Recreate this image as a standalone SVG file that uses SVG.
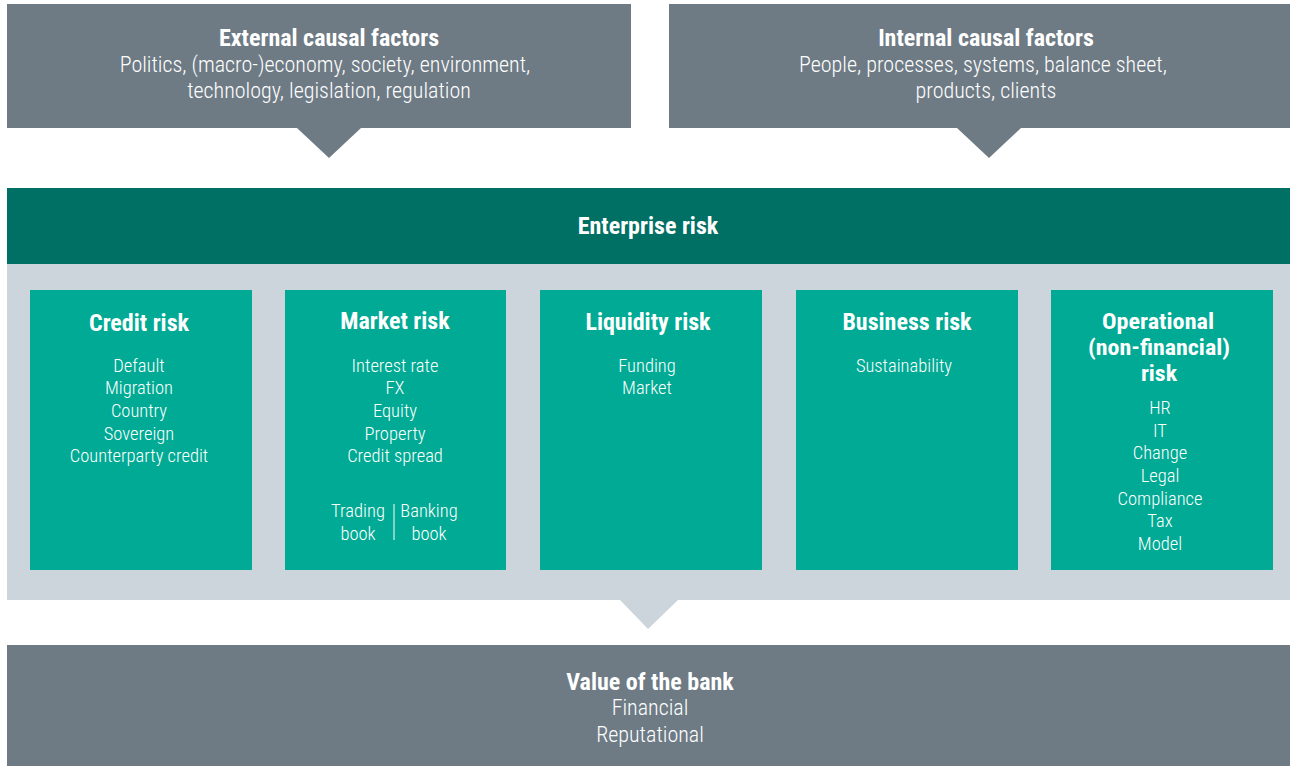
<svg xmlns="http://www.w3.org/2000/svg" width="1290" height="766" viewBox="0 0 1290 766">
<style>
text{font-family:"Liberation Sans Narrow","Roboto Condensed","Liberation Sans",sans-serif;fill:#fff;text-anchor:middle}
.t{font-weight:bold;font-size:24px}
.o{font-weight:bold;font-size:22px}
.b{font-size:22px;font-weight:300}
.c{font-size:18.5px;font-weight:300}
.gray{fill:#6e7b85}
.card{fill:#00aa94}
</style>
<rect width="1290" height="766" fill="#fff"/>
<g id="external">
<rect class="gray" x="7" y="4" width="624" height="124"/>
<polygon class="gray" points="297,128 361,128 329,158"/>
<text class="t" x="329" y="46">External causal factors</text>
<text class="b" x="325" y="72">Politics, (macro-)economy, society, environment,</text>
<text class="b" x="329" y="98">technology, legislation, regulation</text>
</g>
<g id="internal">
<rect class="gray" x="669" y="4" width="621" height="124"/>
<polygon class="gray" points="957,128 1021,128 989,158"/>
<text class="t" x="986" y="46">Internal causal factors</text>
<text class="b" x="983" y="72">People, processes, systems, balance sheet,</text>
<text class="b" x="986" y="98">products, clients</text>
</g>
<g id="enterprise">
<rect x="7" y="264" width="1283" height="336" fill="#cdd5dc"/>
<polygon points="620,600 678,600 648,629" fill="#cdd5dc"/>
<rect x="7" y="188" width="1283" height="76" fill="#006f64"/>
<text class="t" x="648" y="234">Enterprise risk</text>
</g>
<g id="credit">
<rect class="card" x="30" y="290" width="222" height="280"/>
<text class="t" x="139" y="331">Credit risk</text>
<text class="c" x="139" y="372">Default</text>
<text class="c" x="139" y="394">Migration</text>
<text class="c" x="139" y="417">Country</text>
<text class="c" x="139" y="440">Sovereign</text>
<text class="c" x="139" y="462">Counterparty credit</text>
</g>
<g id="market">
<rect class="card" x="285" y="290" width="221" height="280"/>
<text class="t" x="395" y="329">Market risk</text>
<text class="c" x="395" y="372">Interest rate</text>
<text class="c" x="395" y="394">FX</text>
<text class="c" x="395" y="417">Equity</text>
<text class="c" x="395" y="440">Property</text>
<text class="c" x="395" y="462">Credit spread</text>
<text class="c" x="358" y="517">Trading</text>
<text class="c" x="358" y="540">book</text>
<line x1="394" y1="504" x2="394" y2="540" stroke="#fff" stroke-width="1"/>
<text class="c" x="429" y="517">Banking</text>
<text class="c" x="429" y="540">book</text>
</g>
<g id="liquidity">
<rect class="card" x="540" y="290" width="222" height="280"/>
<text class="t" x="648" y="330">Liquidity risk</text>
<text class="c" x="647" y="372">Funding</text>
<text class="c" x="647" y="394">Market</text>
</g>
<g id="business">
<rect class="card" x="796" y="290" width="222" height="280"/>
<text class="t" x="907" y="330">Business risk</text>
<text class="c" x="904" y="372">Sustainability</text>
</g>
<g id="operational">
<rect class="card" x="1051" y="290" width="222" height="280"/>
<text class="o" x="1158" y="329" textLength="112" lengthAdjust="spacingAndGlyphs">Operational</text>
<text class="o" x="1159" y="355" textLength="142" lengthAdjust="spacingAndGlyphs">(non-financial)</text>
<text class="o" x="1159" y="381" textLength="36" lengthAdjust="spacingAndGlyphs">risk</text>
<text class="c" x="1160" y="414">HR</text>
<text class="c" x="1160" y="437">IT</text>
<text class="c" x="1160" y="459">Change</text>
<text class="c" x="1160" y="482">Legal</text>
<text class="c" x="1160" y="505">Compliance</text>
<text class="c" x="1160" y="527">Tax</text>
<text class="c" x="1160" y="550">Model</text>
</g>
<g id="value">
<rect class="gray" x="7" y="645" width="1283" height="121"/>
<text class="t" x="650" y="690">Value of the bank</text>
<text class="b" x="650" y="715">Financial</text>
<text class="b" x="650" y="742">Reputational</text>
</g>
<g id="connectors"></g>
</svg>
